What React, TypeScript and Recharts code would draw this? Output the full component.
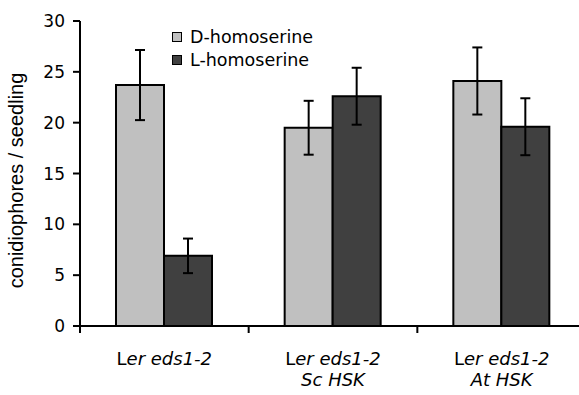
import { BarChart, Bar, XAxis, YAxis, Legend, ErrorBar } from 'recharts';

// genotypes on the category axis, with an optional second (italic) line
const lines1 = ['Ler eds1-2', 'Ler eds1-2', 'Ler eds1-2'];
const lines2 = ['', 'Sc HSK', 'At HSK'];
const categories = ['Ler eds1-2', 'Ler eds1-2 Sc HSK', 'Ler eds1-2 At HSK'];

// mean conidiophores per seedling and error (+/-)
const dHomoserine = [23.7, 19.5, 24.1];
const dHomoserineErr = [3.45, 2.65, 3.3];
const lHomoserine = [6.9, 22.6, 19.6];
const lHomoserineErr = [1.7, 2.8, 2.8];

const yTicks = [0, 5, 10, 15, 20, 25, 30];

const chartData = categories.map((name, i) => ({
  name,
  line1: lines1[i],
  line2: lines2[i],
  d: dHomoserine[i],
  dErr: dHomoserineErr[i],
  l: lHomoserine[i],
  lErr: lHomoserineErr[i],
}));

const FONT = '"DejaVu Sans", sans-serif';

function CategoryTick(props: any) {
  const { x, y, payload, index } = props;
  const half = payload.offset || 0;
  const row = chartData[index];
  const last = index === chartData.length - 1;
  const first = row.line1.slice(0, 1);
  const rest = row.line1.slice(1);
  return (
    <g>
      <line x1={x - half} x2={x - half} y1={y} y2={y + 7} stroke="#000" strokeWidth={2} />
      {last && <line x1={x + half} x2={x + half} y1={y} y2={y + 7} stroke="#000" strokeWidth={2} />}
      <text x={x} y={y + 39} textAnchor="middle" fontFamily={FONT} fontSize={18} fill="#000">
        <tspan>{first}</tspan>
        <tspan fontStyle="italic">{rest}</tspan>
      </text>
      {row.line2 && (
        <text x={x} y={y + 60} textAnchor="middle" fontFamily={FONT} fontSize={18} fontStyle="italic" fill="#000">
          {row.line2}
        </text>
      )}
    </g>
  );
}

function LegendBox(props: any) {
  const { payload } = props;
  return (
    <div style={{ fontFamily: FONT, fontSize: 17.5, color: '#000' }}>
      {(payload || []).map((entry: any) => (
        <div key={entry.value} style={{ display: 'flex', alignItems: 'center', height: 23 }}>
          <span
            style={{
              display: 'inline-block',
              width: 8,
              height: 8,
              border: '1.5px solid #000',
              background: entry.color,
              marginRight: 8,
            }}
          />
          <span>{entry.value}</span>
        </div>
      ))}
    </div>
  );
}

function YLabel(props: any) {
  const { viewBox } = props;
  const cx = viewBox.x + 23;
  const cy = viewBox.y + viewBox.height / 2 + 7;
  return (
    <text
      x={cx}
      y={cy}
      transform={`rotate(-90, ${cx}, ${cy})`}
      textAnchor="middle"
      fontFamily='"Liberation Sans", Arial, sans-serif'
      fontSize={20}
      fill="#000"
    >
      conidiophores / seedling
    </text>
  );
}

export default function App() {
  return (
    <div style={{ position: 'absolute', left: 0, top: 0, width: 579, height: 395, overflow: 'hidden', background: '#fff' }}>
      <BarChart
        width={600}
        height={395}
        data={chartData}
        margin={{ top: 21, right: 14, bottom: 0, left: 0 }}
        barGap={0}
        barSize={48}
      >
        <XAxis
          dataKey="name"
          height={69}
          axisLine={{ stroke: '#000', strokeWidth: 2 }}
          tickLine={false}
          tickSize={0}
          tickMargin={0}
          interval={0}
          tick={<CategoryTick />}
        />
        <YAxis
          width={80}
          domain={[0, 30]}
          ticks={yTicks}
          interval={0}
          axisLine={{ stroke: '#000', strokeWidth: 2 }}
          tickLine={{ stroke: '#000', strokeWidth: 2 }}
          tickSize={7}
          tickMargin={8}
          tick={{ fill: '#000', fontSize: 17, fontFamily: FONT }}
          label={{ content: <YLabel /> }}
        />
        <Legend
          layout="vertical"
          align="center"
          verticalAlign="middle"
          wrapperStyle={{ left: 172, top: 25.5, width: 'auto' }}
          content={<LegendBox />}
        />
        <Bar dataKey="d" name="D-homoserine" fill="#C0C0C0" stroke="#000" strokeWidth={2} isAnimationActive={false}>
          <ErrorBar dataKey="dErr" direction="y" width={5} stroke="#000" strokeWidth={2} />
        </Bar>
        <Bar dataKey="l" name="L-homoserine" fill="#404040" stroke="#000" strokeWidth={2} isAnimationActive={false}>
          <ErrorBar dataKey="lErr" direction="y" width={5} stroke="#000" strokeWidth={2} />
        </Bar>
      </BarChart>
    </div>
  );
}
